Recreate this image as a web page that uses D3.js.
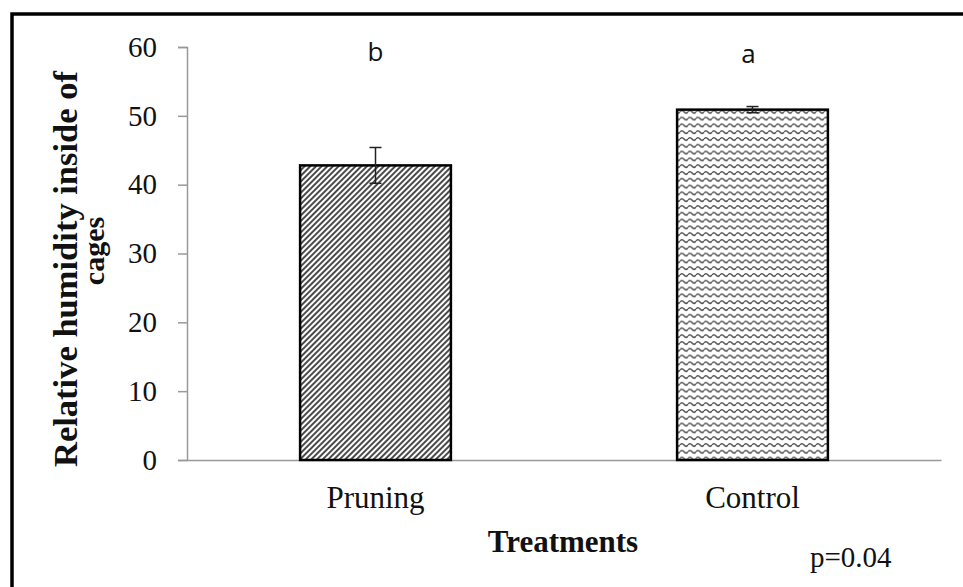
<!DOCTYPE html>
<html>
<head>
<meta charset="utf-8">
<script src="https://cdn.jsdelivr.net/npm/d3@7"></script>
<style>
  body { margin: 0; background: #fff; }
  svg { display: block; }
</style>
</head>
<body>
<svg id="chart"></svg>
<script>
// chart data
let categories = ['Pruning', 'Control']
let values = [42.8, 50.9]
let errors = [2.6, 0.45]
let letters = ['b', 'a']
let yTicks = [0, 10, 20, 30, 40, 50, 60]

let width = 963
let height = 587
let margin = {top: 47, right: 22, bottom: 127, left: 187}
let serif = 'Liberation Serif, Times New Roman, serif'

const svg = d3.select('#chart')
  .attr('width', width)
  .attr('height', height)

// fill patterns
const defs = svg.append('defs')

defs.append('pattern')
  .attr('id', 'hatch')
  .attr('patternUnits', 'userSpaceOnUse')
  .attr('width', 4)
  .attr('height', 4)
  .attr('patternTransform', 'rotate(45)')
  .call(p => p.append('rect').attr('width', 4).attr('height', 4).attr('fill', '#fff'))
  .call(p => p.append('line')
    .attr('x1', 1).attr('y1', 0).attr('x2', 1).attr('y2', 4)
    .attr('stroke', '#4a4a4a').attr('stroke-width', 2))

defs.append('pattern')
  .attr('id', 'wave')
  .attr('patternUnits', 'userSpaceOnUse')
  .attr('width', 8)
  .attr('height', 6.8)
  .call(p => p.append('rect').attr('width', 8).attr('height', 6.8).attr('fill', '#fff'))
  .call(p => p.append('path')
    .attr('d', 'M0,3 Q2,0.5 4,3 T8,3')
    .attr('fill', 'none')
    .attr('stroke', '#555')
    .attr('stroke-width', 1.5))

let x = d3.scaleBand()
  .domain(categories)
  .range([margin.left, width - margin.right])

let barW = x.bandwidth() * 0.4

let y = d3.scaleLinear()
  .domain([0, 60])
  .range([height - margin.bottom, margin.top])

// outer frame
svg.append('rect')
  .attr('x', 12)
  .attr('y', 14)
  .attr('width', 1000)
  .attr('height', 1000)
  .attr('fill', 'none')
  .attr('stroke', '#000')
  .attr('stroke-width', 3.5)

// y axis
svg.append('g')
  .attr('transform', `translate(${margin.left},0)`)
  .call(d3.axisLeft(y).tickValues(yTicks).tickSize(9).tickPadding(21))
  .call(g => g.selectAll('.domain, .tick line').attr('stroke', '#999').attr('stroke-width', 1.5))
  .call(g => g.selectAll('.tick text')
    .attr('font-family', serif)
    .attr('font-size', 29)
    .attr('fill', '#111'))

// x axis
svg.append('g')
  .attr('transform', `translate(0,${y(0)})`)
  .call(d3.axisBottom(x).tickSize(0).tickPadding(26).tickSizeOuter(0))
  .call(g => g.select('.domain').attr('stroke', '#999').attr('stroke-width', 1.5))
  .call(g => g.selectAll('.tick text')
    .attr('font-family', serif)
    .attr('font-size', 31)
    .attr('fill', '#111'))

// bars
svg.append('g')
  .selectAll('rect')
  .data(categories)
  .join('rect')
    .attr('x', d => x(d) + (x.bandwidth() - barW) / 2)
    .attr('y', (d, i) => y(values[i]))
    .attr('width', barW)
    .attr('height', (d, i) => y(0) - y(values[i]))
    .attr('fill', (d, i) => i === 0 ? 'url(#hatch)' : 'url(#wave)')
    .attr('stroke', '#000')
    .attr('stroke-width', 2.5)

// error bars
const err = svg.append('g')
  .attr('stroke', '#222')
  .attr('stroke-width', 1.5)
categories.forEach((c, i) => {
  let cx = x(c) + x.bandwidth() / 2
  let lo = y(values[i] - errors[i])
  let hi = y(values[i] + errors[i])
  err.append('line').attr('x1', cx).attr('x2', cx).attr('y1', lo).attr('y2', hi)
  err.append('line').attr('x1', cx - 6).attr('x2', cx + 6).attr('y1', lo).attr('y2', lo)
  err.append('line').attr('x1', cx - 6).attr('x2', cx + 6).attr('y1', hi).attr('y2', hi)
})

// significance letters
svg.append('g')
  .selectAll('text')
  .data(categories)
  .join('text')
    .attr('x', (d, i) => x(d) + x.bandwidth() / 2 - (i === 0 ? 0 : 4))
    .attr('y', (d, i) => i === 0 ? 61 : 63)
    .attr('text-anchor', 'middle')
    .attr('font-family', 'Open Sans, sans-serif')
    .attr('font-size', 26)
    .attr('fill', '#111')
    .text((d, i) => letters[i])

// axis titles
svg.append('text')
  .attr('x', 563)
  .attr('y', 552)
  .attr('text-anchor', 'middle')
  .attr('font-family', serif)
  .attr('font-weight', 'bold')
  .attr('font-size', 31)
  .attr('fill', '#111')
  .text('Treatments')

svg.append('text')
  .attr('transform', 'translate(77,269) rotate(-90)')
  .attr('text-anchor', 'middle')
  .attr('font-family', serif)
  .attr('font-weight', 'bold')
  .attr('font-size', 33)
  .attr('fill', '#111')
  .attr('textLength', 396)
  .attr('lengthAdjust', 'spacingAndGlyphs')
  .text('Relative humidity inside of')

svg.append('text')
  .attr('transform', 'translate(104,251) rotate(-90)')
  .attr('text-anchor', 'middle')
  .attr('font-family', serif)
  .attr('font-weight', 'bold')
  .attr('font-size', 30)
  .attr('fill', '#111')
  .text('cages')

svg.append('text')
  .attr('x', 810)
  .attr('y', 567)
  .attr('font-family', serif)
  .attr('font-size', 29)
  .attr('fill', '#111')
  .text('p=0.04')
</script>
</body>
</html>
